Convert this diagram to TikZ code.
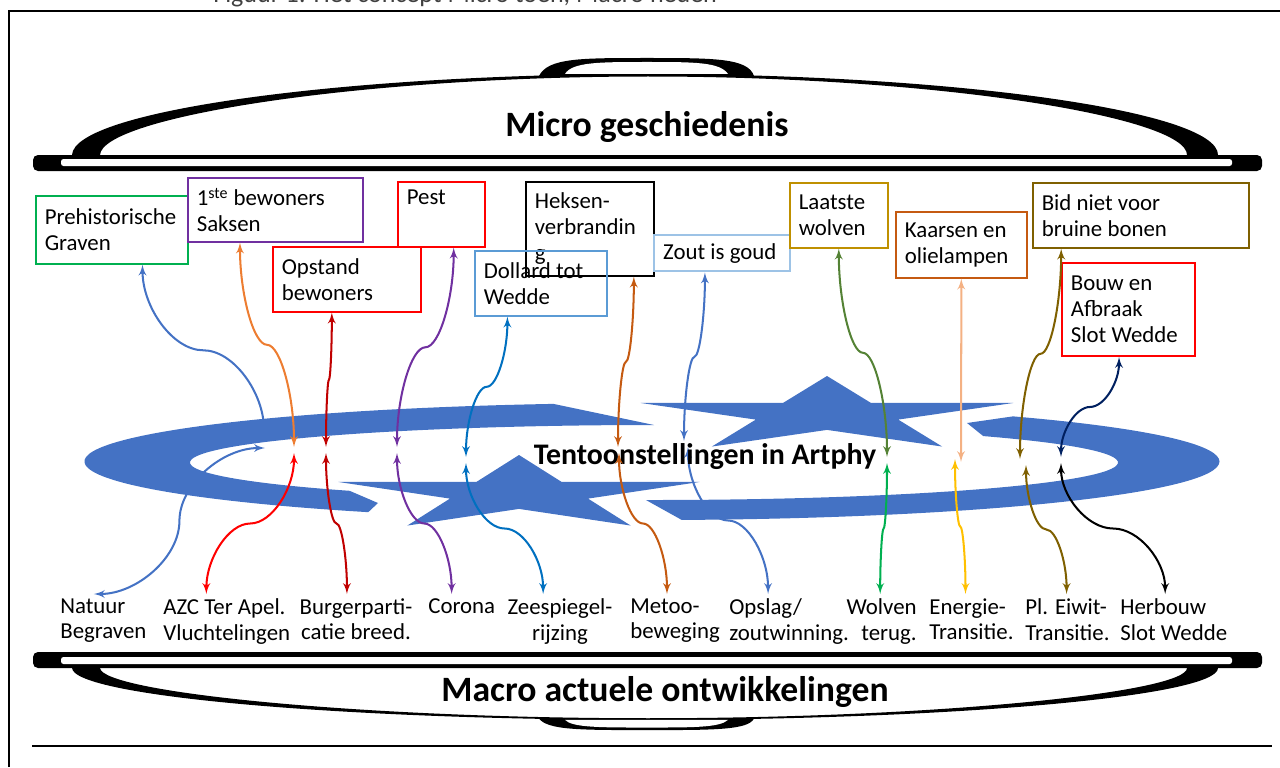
\documentclass[tikz,border=0pt]{standalone}
\usepackage{fontspec}
\setmainfont{Carlito}
\usetikzlibrary{calc,positioning,arrows}

\newcommand{\px}{0.02cm}
\newcommand{\boxfont}{\fontsize{13}{14.7}\selectfont}
\newcommand{\lidfont}{\fontsize{20.3}{24}\selectfont\bfseries}
\newcommand{\ringfont}{\fontsize{17}{20}\selectfont\bfseries}
\newcommand{\capfont}{\fontsize{14.8}{17}\selectfont}

\definecolor{ringblue}{RGB}{68,114,196}
\definecolor{cgreen}{RGB}{0,176,80}
\definecolor{cgreentwo}{RGB}{84,130,53}
\definecolor{cpurple}{RGB}{112,48,160}
\definecolor{cred}{RGB}{255,0,0}
\definecolor{cdarkred}{RGB}{192,0,0}
\definecolor{cblue}{RGB}{0,112,192}
\definecolor{cboxblue}{RGB}{91,155,213}
\definecolor{clightblue}{RGB}{157,195,230}
\definecolor{cgold}{RGB}{191,144,0}
\definecolor{corange}{RGB}{237,125,49}
\definecolor{cbrown}{RGB}{197,90,17}
\definecolor{colive}{RGB}{127,96,0}
\definecolor{cnavy}{RGB}{0,32,96}
\definecolor{cpeach}{RGB}{244,177,131}
\definecolor{cyellow}{RGB}{255,192,0}
\definecolor{capgray}{RGB}{64,64,64}

\tikzstyle{tbox} = [draw, rectangle, anchor=north west, align=flush left,
    inner xsep=9*\px, inner ysep=0pt, line width=0.9pt, font=\boxfont]
\tikzstyle{mtext} = [inner xsep=0pt, inner ysep=4*\px, font=\boxfont]
\tikzstyle{conn} = [<->, >=latex', line width=1.15pt]

% curved connectors, vertical or horizontal at both ends
\tikzset{
  vconn/.style={to path={let \p1=(\tikztostart), \p2=(\tikztotarget) in
    .. controls (\x1,{0.75*\y1+0.25*\y2}) and ({0.75*\x1+0.25*\x2},{0.5*\y1+0.5*\y2})
    .. ({0.5*\x1+0.5*\x2},{0.5*\y1+0.5*\y2})
    .. controls ({0.25*\x1+0.75*\x2},{0.5*\y1+0.5*\y2}) and (\x2,{0.25*\y1+0.75*\y2})
    .. (\tikztotarget)}},
  hconn/.style={to path={let \p1=(\tikztostart), \p2=(\tikztotarget) in
    .. controls ({0.75*\x1+0.25*\x2},\y1) and ({0.5*\x1+0.5*\x2},{0.75*\y1+0.25*\y2})
    .. ({0.5*\x1+0.5*\x2},{0.5*\y1+0.5*\y2})
    .. controls ({0.5*\x1+0.5*\x2},{0.25*\y1+0.75*\y2}) and ({0.25*\x1+0.75*\x2},\y2)
    .. (\tikztotarget)}}
}

\newcommand{\starpath}{(90:1) -- (126:.382) -- (162:1) -- (198:.382) -- (234:1)
  -- (270:.382) -- (306:1) -- (342:.382) -- (18:1) -- (54:.382) -- cycle}

% pot lid: #1 rim height, #2 direction, #3 dome scale
\newcommand{\potlid}[3]{%
  \begin{scope}[shift={(0,#1)},yscale=#2]
    \fill[rounded corners=1mm] (33,0) -- (1262,0) -- (1262,-16) -- (33,-16) -- cycle;
    \fill[white,rounded corners=0.5mm] (61,-4) rectangle (1232,-11);
    \begin{scope}[yscale=#3]
      \fill (72,0) .. controls (74,45) and (350,81) .. (648,81)
        .. controls (946,81) and (1218,45) .. (1218,0) -- (1187,0)
        .. controls (1187,38) and (936,78.5) .. (648,78.5)
        .. controls (360,78.5) and (102,38) .. (100,0) -- cycle;
      \fill (539,79) .. controls (548,97) and (580,97) .. (647,97)
        .. controls (714,97) and (748,97) .. (754,79) -- cycle;
      \fill[white] (565,81) .. controls (572,93) and (600,93) .. (647,93)
        .. controls (694,93) and (720,93) .. (728,81) -- cycle;
    \end{scope}
  \end{scope}}

\begin{document}
\begin{tikzpicture}[x=\px,y=\px]
\useasboundingbox (0,0) rectangle (1280,-767);

\node (caption) [anchor=base west, inner sep=0pt, text=capgray, font=\capfont]
  at (213,-3) {Figuur 1: Het concept Micro toen, Macro heden};
\draw[line width=1.1pt] (9,-767) -- (9,-11) -- (1280,-11);
\draw[line width=1.1pt] (32,-746) -- (1272,-746);

\potlid{-155}{1}{1}
\potlid{-668}{-1}{0.64}
\node (micro) [font=\lidfont] at (647,-127) {Micro geschiedenis};
\node (macro) [font=\lidfont] at (665,-692) {Macro actuele ontwikkelingen};

% boxes micro
\node (prehist) [tbox, draw=cgreen, minimum width=152*\px, minimum height=68*\px, text width=134*\px]
  at (35,-195) {Prehistorische\\Graven};
\node (bewoners) [tbox, draw=cpurple, minimum width=175*\px, minimum height=64*\px, text width=157*\px]
  at (187,-177) {1\textsuperscript{ste} bewoners\\Saksen};
\node (opstand) [tbox, draw=cred, minimum width=148*\px, minimum height=65*\px, text width=130*\px]
  at (272,-246) {Opstand\\bewoners};
\node (pest) [tbox, draw=cred, minimum width=87*\px, minimum height=65*\px, text width=69*\px]
  at (397,-181) {Pest\\\strut};
\node (heksen) [tbox, draw=black, minimum width=128*\px, minimum height=94*\px, text width=110*\px]
  at (525,-181) {Heksen-\\verbrandin\\g};
\node (dollard) [tbox, draw=cboxblue, minimum width=132*\px, minimum height=65*\px, text width=114*\px]
  at (474,-250) {Dollard tot\\Wedde};
\node (zout) [tbox, draw=clightblue, line width=1.4pt, minimum width=136*\px, minimum height=36*\px, text width=118*\px]
  at (653,-234) {Zout is goud};
\node (wolven) [tbox, draw=cgold, minimum width=98*\px, minimum height=65*\px, text width=80*\px]
  at (789,-182) {Laatste\\wolven};
\node (kaarsen) [tbox, draw=cbrown, minimum width=131*\px, minimum height=66*\px, text width=113*\px]
  at (895,-211) {Kaarsen en\\olielampen};
\node (bidniet) [tbox, draw=colive, minimum width=216*\px, minimum height=65*\px, text width=198*\px]
  at (1032,-182) {Bid niet voor\\bruine bonen};
\node (bouw) [tbox, draw=cred, line width=1.1pt, minimum width=133*\px, minimum height=93*\px, text width=115*\px]
  at (1061,-262) {Bouw en\\Afbraak\\Slot Wedde};

% labels macro
\node (natuur) [mtext, anchor=north west, align=left] at (60,-594) {Natuur\\Begraven};
\node (azc) [mtext, anchor=north west, align=left] at (163,-594) {AZC Ter Apel.\\Vluchtelingen};
\node (burger) [mtext, anchor=north, align=center] at (356,-594) {Burgerparti-\\catie breed.};
\node (corona) [mtext, anchor=north west, align=left] at (428,-594) {Corona};
\node (zeespiegel) [mtext, anchor=north, align=center] at (560,-594) {Zeespiegel-\\rijzing};
\node (metoo) [mtext, anchor=north west, align=left] at (630,-594) {Metoo-\\beweging};
\node (opslag) [mtext, anchor=north west, align=left] at (729,-594) {Opslag/\\zoutwinning.};
\node (wolventerug) [mtext, anchor=north east, align=right] at (917,-594) {Wolven\\terug.};
\node (energie) [mtext, anchor=north west, align=left] at (929,-594) {Energie-\\Transitie.};
\node (eiwit) [mtext, anchor=north west, align=left] at (1025,-594) {Pl. Eiwit-\\Transitie.};
\node (herbouw) [mtext, anchor=north west, align=left] at (1120,-594) {Herbouw\\Slot Wedde};

% meeting points in the ring
\coordinate (m_prehist) at (264,-436);
\coordinate (m_natuur) at (265,-448);
\coordinate (m_bewoners) at (294,-447);
\coordinate (m_azc) at (294,-453);
\coordinate (m_opstand) at (326,-447);
\coordinate (m_burger) at (326,-453);
\coordinate (m_pest) at (397,-447);
\coordinate (m_corona) at (397,-453);
\coordinate (m_dollard) at (466,-457);
\coordinate (m_zee) at (466,-463);
\coordinate (m_heksen) at (618,-447);
\coordinate (m_metoo) at (619,-453);
\coordinate (m_zout) at (684,-441);
\coordinate (m_opslag) at (688,-447);
\coordinate (m_wolven) at (887,-457);
\coordinate (m_wolvent) at (887,-463);
\coordinate (m_kaarsen) at (961,-462);
\coordinate (m_energie) at (955,-459);
\coordinate (m_bidniet) at (1020,-459);
\coordinate (m_eiwit) at (1026,-465);
\coordinate (m_bouw) at (1061,-457);
\coordinate (m_herbouw) at (1061,-463);

% blue connectors lie under the ring
\draw[conn, ringblue] ($(prehist.south west)!.70!(prehist.south east)$) to[vconn] (m_prehist);
\draw[conn, ringblue] ($(natuur.north west)!.39!(natuur.north east)$) to[hconn] (m_natuur);
\draw[conn, ringblue] ($(zout.south west)!.375!(zout.south east)$) to[vconn] (m_zout);
\draw[conn, ringblue] ($(opslag.north west)!.325!(opslag.north east)$) to[vconn] (m_opslag);

% ring with two stars
\coordinate (oc) at (652,-461.5);
\coordinate (ic) at (654,-462.5);
\fill[ringblue] ($(oc)+(100:567.5 and 58.5)$) arc[start angle=100, end angle=240, x radius=567.5, y radius=58.5]
  -- (378,-503) -- ($(ic)+(229:464 and 37.5)$) arc[start angle=229, end angle=90, x radius=464, y radius=37.5] -- cycle;
\fill[ringblue] ($(oc)+(50.5:567.5 and 58.5)$) arc[start angle=50.5, end angle=-87, x radius=567.5, y radius=58.5]
  -- ($(ic)+(-91:464 and 37.5)$) arc[start angle=-91, end angle=44.8, x radius=464, y radius=37.5]
  -- (967,-423) -- cycle;
\fill[ringblue, shift={(827,-415)}, xscale=196, yscale=39] \starpath;
\fill[ringblue, shift={(519,-494)}, xscale=190, yscale=39] \starpath;
\node (artphy) [font=\ringfont] at (705,-457) {Tentoonstellingen in Artphy};

% micro connectors
\draw[conn, corange] ($(bewoners.south west)!.30!(bewoners.south east)$) to[vconn] (m_bewoners);
\draw[conn, cdarkred] ($(opstand.south west)!.40!(opstand.south east)$) to[vconn] (m_opstand);
\draw[conn, cpurple] ($(pest.south west)!.64!(pest.south east)$) to[vconn] (m_pest);
\draw[conn, cbrown] ($(heksen.south west)!.84!(heksen.south east)$) to[vconn] (m_heksen);
\draw[conn, cblue] ($(dollard.south west)!.25!(dollard.south east)$) to[vconn] (m_dollard);
\draw[conn, cgreentwo] ($(wolven.south west)!.50!(wolven.south east)$) to[vconn] (m_wolven);
\draw[conn, cpeach] ($(kaarsen.south west)!.50!(kaarsen.south east)$) to[vconn] (m_kaarsen);
\draw[conn, colive] ($(bidniet.south west)!.134!(bidniet.south east)$) to[vconn] (m_bidniet);
\draw[conn, cnavy] ($(bouw.south west)!.43!(bouw.south east)$) to[vconn] (m_bouw);

% macro connectors
\draw[conn, cred] ($(azc.north west)!.34!(azc.north east)$) to[vconn] (m_azc);
\draw[conn, cdarkred] ($(burger.north west)!.42!(burger.north east)$) to[vconn] (m_burger);
\draw[conn, cpurple] ($(corona.north west)!.35!(corona.north east)$) to[vconn] (m_corona);
\draw[conn, cblue] ($(zeespiegel.north west)!.34!(zeespiegel.north east)$) to[vconn] (m_zee);
\draw[conn, cbrown] ($(metoo.north west)!.41!(metoo.north east)$) to[vconn] (m_metoo);
\draw[conn, cgreen] ($(wolventerug.north west)!.48!(wolventerug.north east)$) to[vconn] (m_wolvent);
\draw[conn, cyellow] ($(energie.north west)!.43!(energie.north east)$) to[vconn] (m_energie);
\draw[conn, colive] ($(eiwit.north west)!.49!(eiwit.north east)$) to[vconn] (m_eiwit);
\draw[conn, black] ($(herbouw.north west)!.42!(herbouw.north east)$) to[vconn] (m_herbouw);
\end{tikzpicture}
\end{document}
